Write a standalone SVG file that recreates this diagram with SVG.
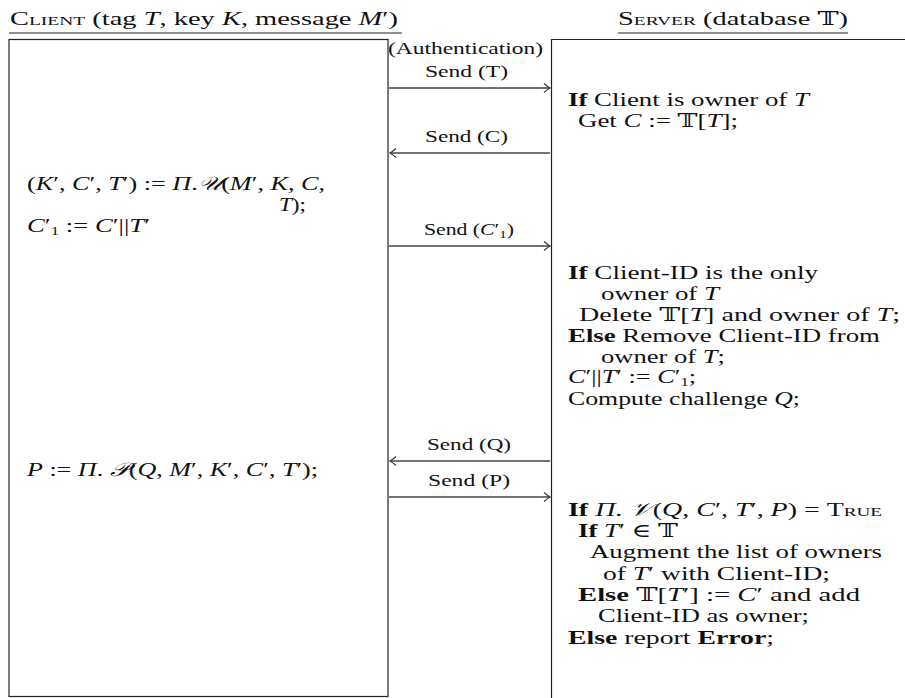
<svg xmlns="http://www.w3.org/2000/svg" width="905" height="698" viewBox="0 0 905 698">
<defs>
<style>
text{font-family:"Liberation Serif","DejaVu Serif",serif;fill:#111;}
.b{font-size:19px;}
.l{font-size:16px;}
.it{font-style:italic;}
.bf{font-weight:bold;}
.sc{font-variant:small-caps;}
.box{fill:none;stroke:#222;stroke-width:1.2;}
.arr{fill:none;stroke:#444;stroke-width:1.3;marker-end:url(#ah);}
.ul{stroke:#222;stroke-width:1.2;}
</style>
<marker id="ah" viewBox="-8 -5 10 10" markerWidth="10" markerHeight="10" refX="0" refY="0" orient="auto" markerUnits="userSpaceOnUse">
<path d="M-6,-4.5 Q-2,-1 0,0 Q-2,1 -6,4.5" fill="none" stroke="#333" stroke-width="1.1"/>
</marker>
</defs>
<g id="client">
<text class="b" x="10" y="25" textLength="388" lengthAdjust="spacingAndGlyphs"><tspan class="sc">Client</tspan> (tag <tspan class="it">T</tspan>, key <tspan class="it">K</tspan>, message <tspan class="it">M</tspan>′)</text>
<line class="ul" x1="9" y1="33" x2="402" y2="33"/>
<rect class="box" x="9" y="39.5" width="379" height="657"/>
<text class="b" x="27" y="190" textLength="298" lengthAdjust="spacingAndGlyphs">(<tspan class="it">K</tspan>′, <tspan class="it">C</tspan>′, <tspan class="it">T</tspan>′) := <tspan class="it">Π</tspan>.<tspan class="it">𝒰</tspan>(<tspan class="it">M</tspan>′, <tspan class="it">K</tspan>, <tspan class="it">C</tspan>,</text>
<text class="b" x="279" y="211" textLength="27" lengthAdjust="spacingAndGlyphs"><tspan class="it">T</tspan>);</text>
<text class="b" x="27" y="232" textLength="123" lengthAdjust="spacingAndGlyphs"><tspan class="it">C</tspan>′<tspan font-size="12" dy="3">1</tspan><tspan dy="-3"> := </tspan><tspan class="it">C</tspan>′||<tspan class="it">T</tspan>′</text>
<text class="b" x="27" y="476" textLength="291" lengthAdjust="spacingAndGlyphs"><tspan class="it">P</tspan> := <tspan class="it">Π</tspan>. <tspan class="it">𝒫</tspan>(<tspan class="it">Q</tspan>, <tspan class="it">M</tspan>′, <tspan class="it">K</tspan>′, <tspan class="it">C</tspan>′, <tspan class="it">T</tspan>′);</text>
</g>
<g id="server">
<text class="b" x="618" y="25" textLength="230" lengthAdjust="spacingAndGlyphs"><tspan class="sc">Server</tspan> (database 𝕋)</text>
<line class="ul" x1="618" y1="33" x2="848" y2="33"/>
<path class="box" d="M551.5,698 V39.5 H906"/>
<text class="b" x="568" y="106" textLength="241" lengthAdjust="spacingAndGlyphs"><tspan class="bf">If</tspan> Client is owner of <tspan class="it">T</tspan></text>
<text class="b" x="578" y="127" textLength="160" lengthAdjust="spacingAndGlyphs">Get <tspan class="it">C</tspan> := 𝕋[<tspan class="it">T</tspan>];</text>
<text class="b" x="568" y="279" textLength="250" lengthAdjust="spacingAndGlyphs"><tspan class="bf">If</tspan> Client-ID is the only</text>
<text class="b" x="601" y="300" textLength="118" lengthAdjust="spacingAndGlyphs">owner of <tspan class="it">T</tspan></text>
<text class="b" x="579" y="321" textLength="321" lengthAdjust="spacingAndGlyphs">Delete 𝕋[<tspan class="it">T</tspan>] and owner of <tspan class="it">T</tspan>;</text>
<text class="b" x="568" y="342" textLength="312" lengthAdjust="spacingAndGlyphs"><tspan class="bf">Else</tspan> Remove Client-ID from</text>
<text class="b" x="601" y="363" textLength="124" lengthAdjust="spacingAndGlyphs">owner of <tspan class="it">T</tspan>;</text>
<text class="b" x="568" y="383" textLength="128" lengthAdjust="spacingAndGlyphs"><tspan class="it">C</tspan>′||<tspan class="it">T</tspan>′ := <tspan class="it">C</tspan>′<tspan font-size="12" dy="2.5">1</tspan><tspan dy="-2.5">;</tspan></text>
<text class="b" x="568" y="405" textLength="232" lengthAdjust="spacingAndGlyphs">Compute challenge <tspan class="it">Q</tspan>;</text>
<text class="b" x="568" y="516" textLength="314" lengthAdjust="spacingAndGlyphs"><tspan class="bf">If</tspan> <tspan class="it">Π</tspan>. <tspan class="it">𝒱</tspan>(<tspan class="it">Q</tspan>, <tspan class="it">C</tspan>′, <tspan class="it">T</tspan>′, <tspan class="it">P</tspan>) = <tspan class="sc">True</tspan></text>
<text class="b" x="578" y="537" textLength="100" lengthAdjust="spacingAndGlyphs"><tspan class="bf">If</tspan> <tspan class="it">T</tspan>′ ∈ 𝕋</text>
<text class="b" x="590" y="558" textLength="292" lengthAdjust="spacingAndGlyphs">Augment the list of owners</text>
<text class="b" x="603" y="580" textLength="227" lengthAdjust="spacingAndGlyphs">of <tspan class="it">T</tspan>′ with Client-ID;</text>
<text class="b" x="578" y="601" textLength="282" lengthAdjust="spacingAndGlyphs"><tspan class="bf">Else</tspan> 𝕋[<tspan class="it">T</tspan>′] := <tspan class="it">C</tspan>′ and add</text>
<text class="b" x="598" y="622" textLength="211" lengthAdjust="spacingAndGlyphs">Client-ID as owner;</text>
<text class="b" x="568" y="644" textLength="206" lengthAdjust="spacingAndGlyphs"><tspan class="bf">Else</tspan> report <tspan class="bf">Error</tspan>;</text>
</g>
<g id="connectors">
<text class="l" x="388" y="54" textLength="155" lengthAdjust="spacingAndGlyphs">(Authentication)</text>
<text class="l" x="425" y="77" textLength="83" lengthAdjust="spacingAndGlyphs">Send (T)</text>
<line class="arr" x1="389" y1="88" x2="550" y2="88"/>
<text class="l" x="425" y="142" textLength="83" lengthAdjust="spacingAndGlyphs">Send (C)</text>
<line class="arr" x1="550" y1="153" x2="390" y2="153"/>
<text class="l" x="424" y="235" textLength="90" lengthAdjust="spacingAndGlyphs">Send (<tspan class="it">C</tspan>′<tspan font-size="11" dy="3">1</tspan><tspan dy="-3">)</tspan></text>
<line class="arr" x1="389" y1="246" x2="550" y2="246"/>
<text class="l" x="427" y="450" textLength="84" lengthAdjust="spacingAndGlyphs">Send (Q)</text>
<line class="arr" x1="550" y1="461" x2="390" y2="461"/>
<text class="l" x="428" y="486" textLength="82" lengthAdjust="spacingAndGlyphs">Send (P)</text>
<line class="arr" x1="389" y1="497" x2="550" y2="497"/>
</g>
</svg>
